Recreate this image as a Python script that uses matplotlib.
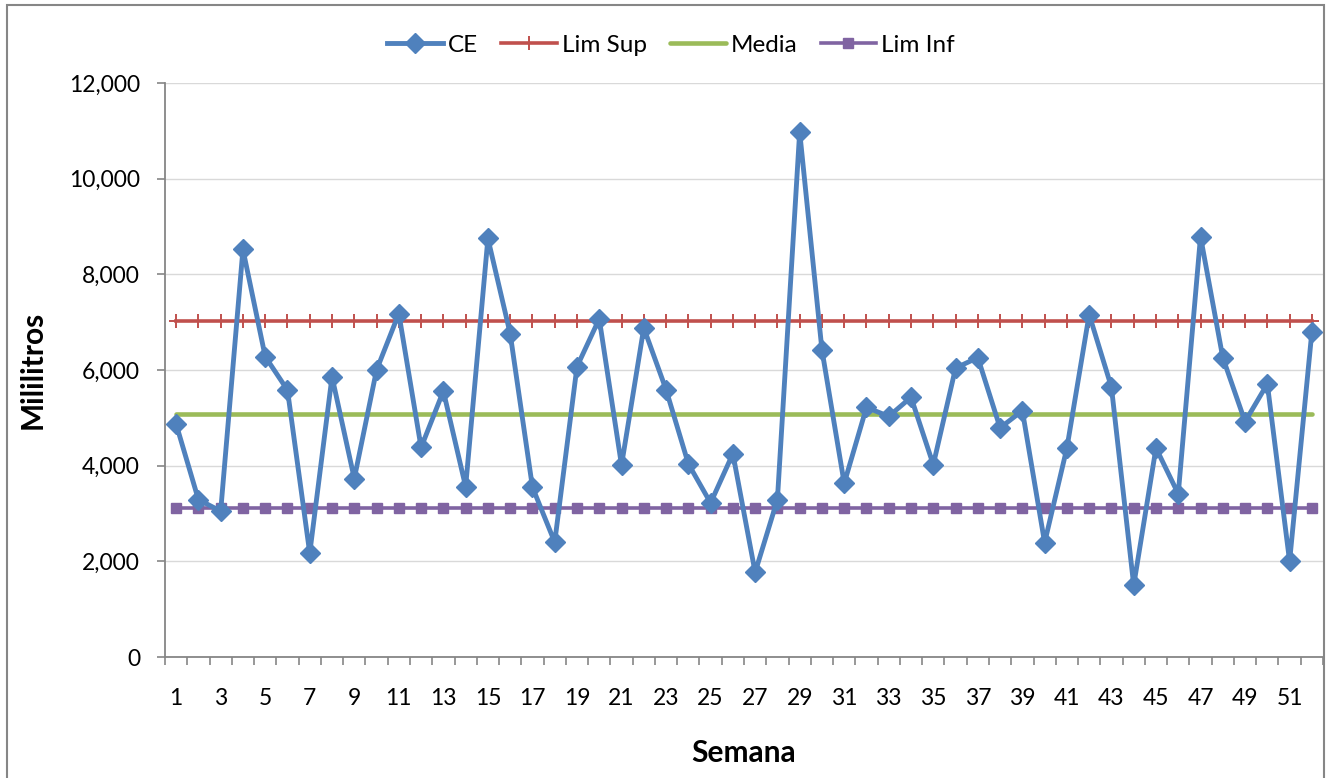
import matplotlib
matplotlib.use("Agg")
import matplotlib.pyplot as plt
from matplotlib.patches import Rectangle
from matplotlib.ticker import FuncFormatter, MultipleLocator, FixedLocator

plt.rcParams['font.family'] = ['Lato', 'DejaVu Sans']

# Weekly consumption (CE) and control limits
semanas = list(range(1, 53))
ce = [4870, 3290, 3050, 8520, 6280, 5580, 2170, 5860, 3730, 6000,
      7180, 4380, 5560, 3560, 8750, 6760, 3550, 2400, 6070, 7070,
      4010, 6880, 5590, 4040, 3220, 4250, 1770, 3290, 10980, 6420,
      3630, 5220, 5030, 5430, 4020, 6040, 6260, 4790, 5150, 2390,
      4370, 7160, 5640, 1500, 4370, 3410, 8790, 6260, 4920, 5710,
      2000, 6800]
lim_sup = [7020] * 52
media = [5070] * 52
lim_inf = [3120] * 52

x_labels = [str(s) if s % 2 == 1 else "" for s in semanas]

W, H = 1326, 778
fig = plt.figure(figsize=(W / 100, H / 100), dpi=100)
ax = fig.add_axes([165 / W, 1 - 657 / H, (1323 - 165) / W, (657 - 83) / H])

pos = list(range(len(semanas)))

ax.plot(pos, ce, color='#4F81BD', lw=3.5, marker='D', ms=10.5,
        mfc='#4F81BD', mec='#4F81BD', label='CE', zorder=5)
ax.plot(pos, lim_sup, color='#C0504D', lw=2.6, marker='+', ms=9.5,
        mew=1.4, label='Lim Sup', zorder=3)
ax.plot(pos, media, color='#9BBB59', lw=3.3, label='Media', zorder=3,
        solid_capstyle='round')
ax.plot(pos, lim_inf, color='#8064A2', lw=2.6, marker='s', ms=6.5,
        mfc='#8064A2', mec='#8064A2', label='Lim Inf', zorder=3)

ax.set_ylim(0, 12000)
ax.set_xlim(-0.5, len(semanas) - 0.5)
ax.yaxis.set_major_locator(MultipleLocator(2000))
ax.yaxis.set_major_formatter(FuncFormatter(lambda v, p: f"{int(v):,}"))
ax.grid(axis='y', color='#D9D9D9', lw=1)
ax.set_axisbelow(True)

ax.set_xticks(pos)
ax.set_xticklabels(x_labels)
ax.xaxis.set_minor_locator(FixedLocator([p - 0.5 for p in pos] + [len(pos) - 0.5]))
ax.tick_params(axis='x', which='major', length=0, pad=22, labelsize=16.5)
ax.tick_params(axis='x', which='minor', length=6, width=1.2, color='#868686', direction='out')
ax.tick_params(axis='y', length=6, width=1.2, color='#868686', pad=12, labelsize=16.5)

for s in ('top', 'right'):
    ax.spines[s].set_visible(False)
for s in ('left', 'bottom'):
    ax.spines[s].set_color('#868686')
    ax.spines[s].set_linewidth(1.3)

ax.set_xlabel('Semana', fontsize=21.5, fontweight='bold', labelpad=22)
ax.set_ylabel('Mililitros', fontsize=21.5, fontweight='bold', labelpad=16)

fig.legend(loc='center', bbox_to_anchor=(671 / W, 1 - 45 / H), ncol=4,
           frameon=False, fontsize=17.5, handlelength=2.3, columnspacing=0.95,
           handletextpad=0.2)

fig.patches.append(Rectangle((7 / W, -0.01), (1324 - 7) / W, 1 - 5 / H + 0.01,
                             transform=fig.transFigure, fill=False,
                             edgecolor='#868686', lw=1.5))

fig.savefig('out.png', dpi=100)
